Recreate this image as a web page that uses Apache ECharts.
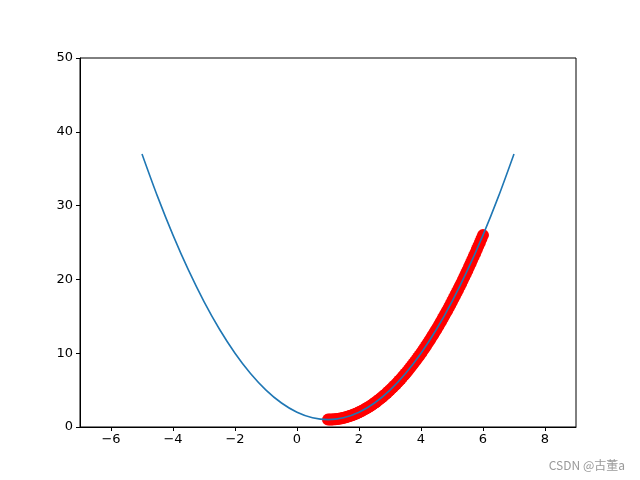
<!DOCTYPE html>
<html>
<head>
<meta charset="utf-8">
<title>curve</title>
<script src="https://cdn.jsdelivr.net/npm/echarts@6/dist/echarts.min.js"></script>
<style>
  html, body { margin: 0; padding: 0; background: #fff; }
  #main { width: 640px; height: 480px; }
</style>
</head>
<body>
<div id="main"></div>
<script>
// 蓝色曲线（读图取点）
var curveX = [-5, -4.5, -4, -3.5, -3, -2.5, -2, -1.5, -1, -0.5, 0, 0.5, 1,
  1.5, 2, 2.5, 3, 3.5, 4, 4.5, 5, 5.5, 6, 6.5, 7];
var curveY = [37, 31.25, 26, 21.25, 17, 13.25, 10, 7.25, 5, 3.25, 2, 1.25, 1,
  1.25, 2, 3.25, 5, 7.25, 10, 13.25, 17, 21.25, 26, 31.25, 37];

// 红色点
var dotX = [1.00, 1.05, 1.10, 1.15, 1.20, 1.25, 1.30, 1.35, 1.40, 1.45,
  1.50, 1.55, 1.60, 1.65, 1.70, 1.75, 1.80, 1.85, 1.90, 1.95,
  2.00, 2.05, 2.10, 2.15, 2.20, 2.25, 2.30, 2.35, 2.40, 2.45,
  2.50, 2.55, 2.60, 2.65, 2.70, 2.75, 2.80, 2.85, 2.90, 2.95,
  3.00, 3.05, 3.10, 3.15, 3.20, 3.25, 3.30, 3.35, 3.40, 3.45,
  3.50, 3.55, 3.60, 3.65, 3.70, 3.75, 3.80, 3.85, 3.90, 3.95,
  4.00, 4.05, 4.10, 4.15, 4.20, 4.25, 4.30, 4.35, 4.40, 4.45,
  4.50, 4.55, 4.60, 4.65, 4.70, 4.75, 4.80, 4.85, 4.90, 4.95,
  5.00, 5.05, 5.10, 5.15, 5.20, 5.25, 5.30, 5.35, 5.40, 5.45,
  5.50, 5.55, 5.60, 5.65, 5.70, 5.75, 5.80, 5.85, 5.90, 5.95, 6.00];
var dotY = [1.00, 1.00, 1.01, 1.02, 1.04, 1.06, 1.09, 1.12, 1.16, 1.20,
  1.25, 1.30, 1.36, 1.42, 1.49, 1.56, 1.64, 1.72, 1.81, 1.90,
  2.00, 2.10, 2.21, 2.32, 2.44, 2.56, 2.69, 2.82, 2.96, 3.10,
  3.25, 3.40, 3.56, 3.72, 3.89, 4.06, 4.24, 4.42, 4.61, 4.80,
  5.00, 5.20, 5.41, 5.62, 5.84, 6.06, 6.29, 6.52, 6.76, 7.00,
  7.25, 7.50, 7.76, 8.02, 8.29, 8.56, 8.84, 9.12, 9.41, 9.70,
  10.00, 10.30, 10.61, 10.92, 11.24, 11.56, 11.89, 12.22, 12.56, 12.90,
  13.25, 13.60, 13.96, 14.32, 14.69, 15.06, 15.44, 15.82, 16.21, 16.60,
  17.00, 17.40, 17.81, 18.22, 18.64, 19.06, 19.49, 19.92, 20.36, 20.80,
  21.25, 21.70, 22.16, 22.62, 23.09, 23.56, 24.04, 24.52, 25.01, 25.50, 26.00];

var xTicks = [-6, -4, -2, 0, 2, 4, 6, 8];
var yTicks = [0, 10, 20, 30, 40, 50];

function pairs(xs, ys) {
  return xs.map(function (x, i) { return [x, ys[i]]; });
}

var chart = echarts.init(document.getElementById('main'));
var labelFont = { fontFamily: 'DejaVu Sans', fontSize: 13, color: '#000' };

chart.setOption({
  animation: false,
  grid: {
    left: 80, right: 64, top: 58, bottom: 53,
    show: true, borderColor: '#000', borderWidth: 1, backgroundColor: 'transparent'
  },
  xAxis: {
    type: 'value', min: -7, max: 9,
    splitLine: { show: false },
    axisLine: { show: true, onZero: false, lineStyle: { color: '#000', width: 1 } },
    axisTick: { show: true, inside: false, length: 4, lineStyle: { color: '#000' }, customValues: xTicks },
    axisLabel: Object.assign({
      margin: 6,
      customValues: xTicks,
      formatter: function (v) { return String(v).replace('-', '\u2212'); }
    }, labelFont)
  },
  yAxis: {
    type: 'value', min: 0, max: 50, interval: 10,
    splitLine: { show: false },
    axisLine: { show: true, onZero: false, lineStyle: { color: '#000', width: 1 } },
    axisTick: { show: true, inside: false, length: 4, lineStyle: { color: '#000' }, customValues: yTicks },
    axisLabel: Object.assign({ margin: 7, customValues: yTicks }, labelFont)
  },
  series: [
    {
      type: 'scatter',
      data: pairs(dotX, dotY),
      symbol: 'circle',
      symbolSize: 12,
      itemStyle: { color: '#ff0000', opacity: 1 },
      z: 2
    },
    {
      type: 'line',
      data: pairs(curveX, curveY),
      smooth: 0.3,
      showSymbol: false,
      lineStyle: { color: '#1f77b4', width: 1.6 },
      z: 3
    }
  ],
  graphic: [{
    type: 'text',
    right: 15,
    bottom: 9,
    style: {
      text: 'CSDN @古董a',
      fill: '#999',
      font: '12px "Noto Sans CJK SC", "DejaVu Sans", sans-serif'
    }
  }]
});
</script>
</body>
</html>
